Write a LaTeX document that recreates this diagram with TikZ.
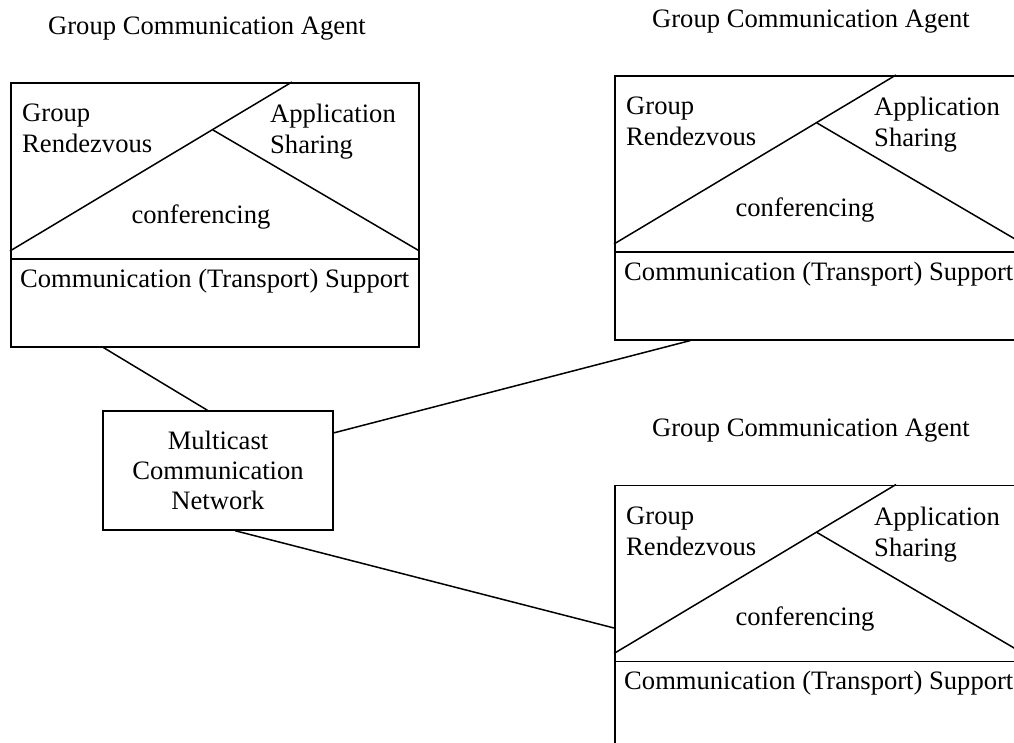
\documentclass[tikz,border=0pt]{standalone}
\usepackage{fontspec}
\setmainfont{Liberation Serif}
\usetikzlibrary{positioning, calc}
\tikzset{
    agent/.style={draw, line width=1.5pt, rectangle, minimum width=408pt, minimum height=264pt, inner sep=0pt},
    network/.style={draw, line width=1.5pt, rectangle, minimum width=230pt, minimum height=119pt, align=center, inner sep=0pt, font=\fontsize{26.6}{30}\selectfont},
    layer/.style={line width=1.5pt},
    txt/.style={inner sep=0pt, font=\fontsize{26.6}{31}\selectfont},
    link/.style={line width=1.5pt}
}

\begin{document}
\begin{tikzpicture}[x=1pt, y=-1pt]
      \path[use as bounding box, clip] (0,0) rectangle (1014,742);

      % --- Agent boxes ---
      \node (agentA) [agent, anchor=north west] at (10,82) {};
      \node (agentB) [agent, anchor=north west] at (614,75) {};
      \node (agentC) [agent, below=144pt of agentB] {};

      % --- Network ---
      \node (net) [network] at (218,470.5) {Multicast\\Communication\\Network};

      % --- Layers inside each agent ---
      \foreach \n in {agentA, agentB, agentC} {
          \draw[layer] ($(\n.north west)+(0,169)$) -- ($(\n.north west)+(282,0)$);
          \draw[layer] ($(\n.north west)+(203,48)$) -- ($(\n.north east)+(0,169)$);
          \draw[layer] ($(\n.north west)+(0,177)$) -- ($(\n.north east)+(0,177)$);
          \node (\n-title) [txt, anchor=base] at ($(\n.north west)+(197,-48)$) {Group Communication Agent};
          \node (\n-rdv) [txt, anchor=north west, align=left] at ($(\n.north west)+(12,22)$) {Group\\Rendezvous};
          \node (\n-app) [txt, anchor=north west, align=left] at ($(\n.north west)+(260,22)$) {Application\\Sharing};
          \node (\n-conf) [txt, anchor=base] at ($(\n.north west)+(191,141)$) {conferencing};
          \node (\n-comm) [txt, anchor=base west] at ($(\n.north west)+(10,205)$) {Communication (Transport) Support};
      }

      % --- Links ---
      \draw[link] (agentA.230) -- (net.100);
      \draw[link] (net.18) -- (agentB.226);
      \draw[link] (net.286) -- (agentC.183);
\end{tikzpicture}
\end{document}
